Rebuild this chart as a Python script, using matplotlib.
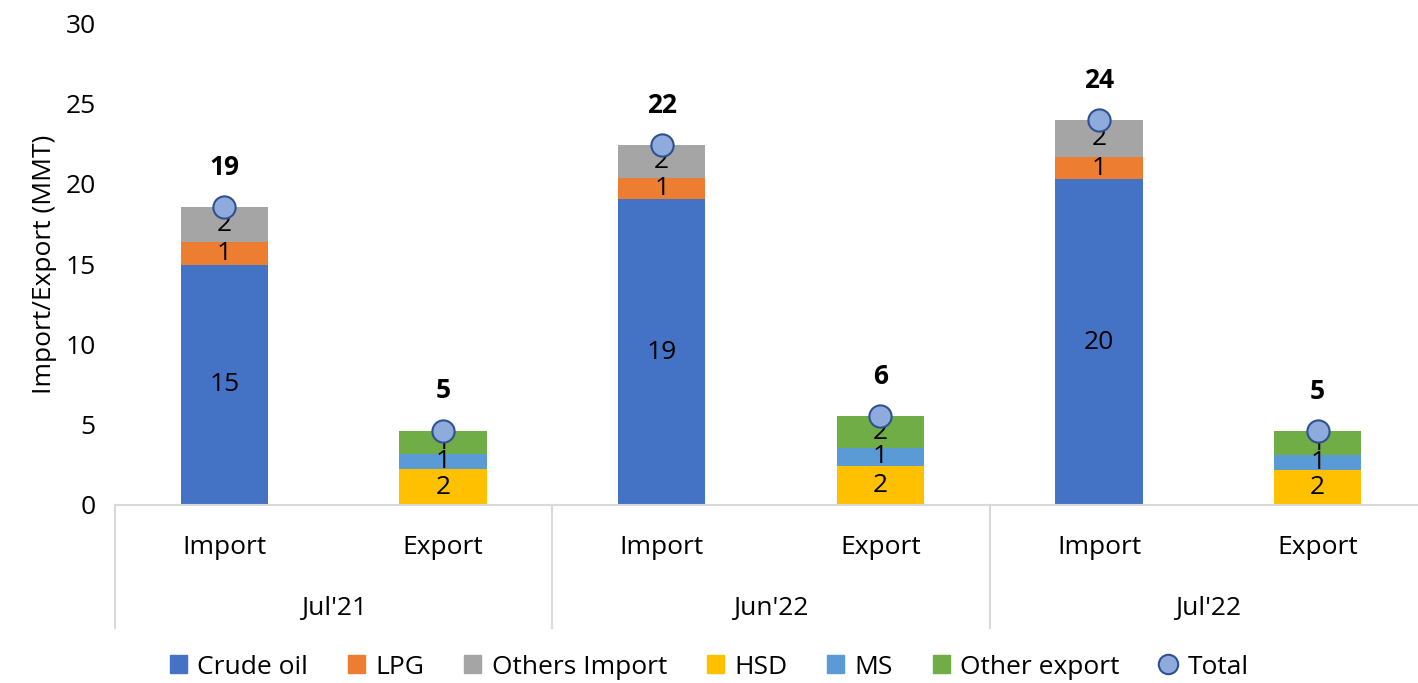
import matplotlib
matplotlib.use("Agg")
import matplotlib.pyplot as plt
from matplotlib.lines import Line2D
from matplotlib.patches import Patch
import numpy as np

plt.rcParams['font.family'] = ['Open Sans', 'DejaVu Sans']

groups = ["Jul'21", "Jun'22", "Jul'22"]
kinds = ["Import", "Export"]

crude = [14.95, 19.04, 20.29]
lpg = [1.45, 1.31, 1.37]
others_import = [2.12, 2.05, 2.30]
hsd = [2.24, 2.43, 2.18]
ms = [0.93, 1.12, 0.93]
other_export = [1.46, 1.97, 1.49]

c_crude, c_lpg, c_oth = '#4472c4', '#ed7d31', '#a5a5a5'
c_hsd, c_ms, c_oexp = '#ffc000', '#5b9bd5', '#70ad47'

FS = 19

W, H = 1418, 683
fig = plt.figure(figsize=(W/100, H/100), dpi=100)
x0, x1 = 115, 1427
y0, y1 = 505, 23
ax = fig.add_axes([x0/W, (H-y0)/H, (x1-x0)/W, (y0-y1)/H])

imp_x = np.array([0, 2, 4])
exp_x = np.array([1, 3, 5])
bw = 0.4

imp_tot = np.array(crude) + np.array(lpg) + np.array(others_import)
exp_tot = np.array(hsd) + np.array(ms) + np.array(other_export)

def seg(xs, vals, bottom, color, label):
    b = ax.bar(xs, vals, bw, bottom=bottom, color=color, label=label, zorder=2)
    ax.bar_label(b, labels=[f"{v:.0f}" for v in vals], label_type='center',
                 fontsize=FS, color='black')
    return np.array(bottom) + np.array(vals)

b = np.zeros(3)
b = seg(imp_x, crude, b, c_crude, 'Crude oil')
b = seg(imp_x, lpg, b, c_lpg, 'LPG')
b = seg(imp_x, others_import, b, c_oth, 'Others Import')
b = np.zeros(3)
b = seg(exp_x, hsd, b, c_hsd, 'HSD')
b = seg(exp_x, ms, b, c_ms, 'MS')
b = seg(exp_x, other_export, b, c_oexp, 'Other export')

all_x = np.arange(6)
totals = np.empty(6)
totals[imp_x] = imp_tot
totals[exp_x] = exp_tot
ax.plot(all_x, totals, linestyle='none', marker='o', markersize=16,
        markerfacecolor='#8faadc', markeredgecolor='#2f528f', markeredgewidth=1.5,
        zorder=4)
for xv, tv in zip(all_x, totals):
    ax.annotate(f"{tv:.0f}", (xv, tv), xytext=(0, 19), textcoords='offset points',
                ha='center', va='bottom', fontsize=FS, fontweight='bold')

ax.set_xlim(-0.5, 5.5)
ax.set_ylim(0, 30)
ax.set_yticks(range(0, 31, 5))
ax.tick_params(axis='y', length=0, labelsize=FS, pad=14)
ax.set_xticks([])
for s in ['top', 'right', 'left']:
    ax.spines[s].set_visible(False)
ax.spines['bottom'].set_color('#d9d9d9')
ax.spines['bottom'].set_linewidth(1.5)
ax.set_ylabel('Import/Export (MMT)', fontsize=FS, labelpad=6)

trans = ax.get_xaxis_transform()
sep_bottom = (y0 - 628) / (y0 - y1)
for xv in [-0.5, 1.5, 3.5, 5.5]:
    ax.plot([xv, xv], [0, sep_bottom], transform=trans, color='#d9d9d9',
            linewidth=1.5, clip_on=False)
kind_y = (y0 - 548) / (y0 - y1)
grp_y = (y0 - 608) / (y0 - y1)
for i, xv in enumerate(all_x):
    ax.text(xv, kind_y, kinds[i % 2], transform=trans, ha='center', va='center',
            fontsize=FS)
for i, g in enumerate(groups):
    ax.text(2*i + 0.5, grp_y, g, transform=trans, ha='center', va='center',
            fontsize=FS)

handles = [Patch(color=c) for c in [c_crude, c_lpg, c_oth, c_hsd, c_ms, c_oexp]]
handles.append(Line2D([], [], linestyle='none', marker='o', markersize=14,
                      markerfacecolor='#8faadc', markeredgecolor='#2f528f',
                      markeredgewidth=1.5))
labels = ['Crude oil', 'LPG', 'Others Import', 'HSD', 'MS', 'Other export', 'Total']
fig.legend(handles, labels, loc='center', bbox_to_anchor=(0.5, (H-667)/H),
           ncol=7, frameon=False, fontsize=FS, handlelength=0.65, handleheight=0.65,
           handletextpad=0.4, columnspacing=1.5)

fig.savefig('out.png', dpi=100)
